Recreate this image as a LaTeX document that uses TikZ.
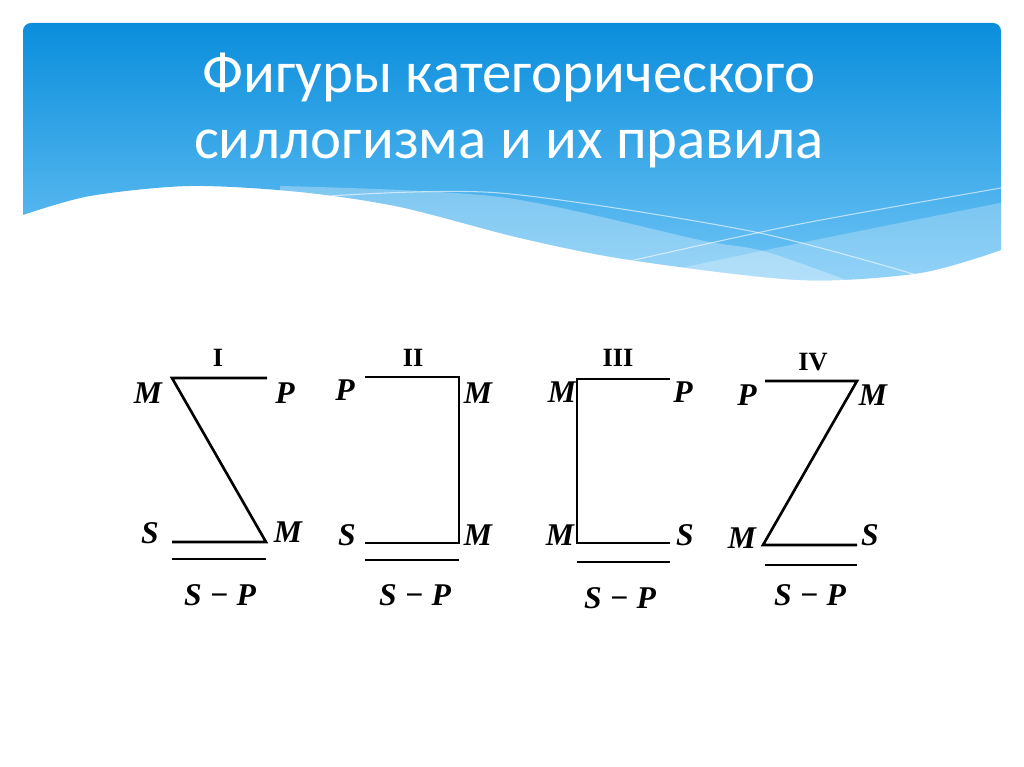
\documentclass[tikz,border=0pt]{standalone}
\usepackage{fontspec}
\setmainfont{Liberation Serif}
\newfontfamily\titlefont{Carlito}
\usetikzlibrary{positioning}
\definecolor{headtop}{RGB}{10,142,220}
\definecolor{headbot}{RGB}{110,196,245}

\tikzset{
  slidetitle/.style={font=\titlefont\fontsize{33.5}{40}\selectfont, text=white, inner sep=0pt},
  term/.style={font=\fontsize{18}{21}\selectfont\bfseries\itshape, inner sep=0pt},
  fignum/.style={font=\fontsize{15}{18}\selectfont\bfseries, inner sep=0pt},
  leg/.style={line width=1.5pt},
  swoosh/.style={white, opacity=0.6, line width=0.6pt},
}

\begin{document}
\begin{tikzpicture}[x=0.02cm,y=-0.02cm]
    \useasboundingbox (0,0) rectangle (1024,767);

    % Header band with wave
    \begin{scope}
        \clip (23,215) [rounded corners=4.5pt] -- (23,23) -- (1001,23) [sharp corners] -- (1001,250)
            -- plot[smooth] coordinates {(1001,250) (920,273) (800,280) (630,260) (520,238) (400,207) (300,192) (190,186) (90,196) (23,215)} -- cycle;
        \shade[top color=headtop, bottom color=headbot] (0,23) rectangle (1024,282);
        \fill[white, opacity=0.3] plot[smooth] coordinates {(280,186) (500,197) (700,240) (770,253) (900,300)} -- (280,300) -- cycle;
        \fill[white, opacity=0.25] plot[smooth] coordinates {(600,285) (800,243) (1010,201)} -- (1010,300) -- (600,300) -- cycle;
        \draw[swoosh] plot[smooth] coordinates {(330,196) (500,193) (750,231) (920,276)};
        \draw[swoosh] plot[smooth] coordinates {(630,261) (800,224) (1001,188)};
    \end{scope}

    % Title
    \node[slidetitle, anchor=base] (title1) at (509,92) {Фигуры категорического};
    \node[slidetitle, anchor=base] (title2) at (509,158) {силлогизма и их правила};

    % Figure I
    \coordinate (I-m1) at (172,378);
    \coordinate (I-p) at (267,378);
    \coordinate (I-m2) at (266,542);
    \coordinate (I-s) at (172,542);
    \coordinate (I-u1) at (172,559);
    \coordinate (I-u2) at (266,559);
    \draw[leg] (I-p) -- (I-m1) -- (I-m2) -- (I-s);
    \draw[leg] (I-u1) -- (I-u2);
    \node[fignum] (I-num) at (218,358) {I};
    \node[term] (I-M1) at (148,393) {M};
    \node[term] (I-P) at (285,393) {P};
    \node[term] (I-S) at (150,533) {S};
    \node[term] (I-M2) at (288,532) {M};
    \node[term] (I-res) at (220,595) {S − P};

    % Figure II
    \coordinate (II-p) at (365,377);
    \coordinate (II-m1) at (459,377);
    \coordinate (II-m2) at (459,543);
    \coordinate (II-s) at (365,543);
    \coordinate (II-u1) at (365,560);
    \coordinate (II-u2) at (459,560);
    \draw[leg] (II-p) -- (II-m1) -- (II-m2) -- (II-s);
    \draw[leg] (II-u1) -- (II-u2);
    \node[fignum] (II-num) at (413,358) {II};
    \node[term] (II-P) at (345,390) {P};
    \node[term] (II-M1) at (478,393) {M};
    \node[term] (II-S) at (347,535) {S};
    \node[term] (II-M2) at (478,535) {M};
    \node[term] (II-res) at (415,595) {S − P};

    % Figure III
    \coordinate (III-p) at (670,379);
    \coordinate (III-m1) at (577,379);
    \coordinate (III-m2) at (577,543);
    \coordinate (III-s) at (670,543);
    \coordinate (III-u1) at (577,562);
    \coordinate (III-u2) at (670,562);
    \draw[leg] (III-p) -- (III-m1) -- (III-m2) -- (III-s);
    \draw[leg] (III-u1) -- (III-u2);
    \node[fignum] (III-num) at (618,358) {III};
    \node[term] (III-M1) at (562,392) {M};
    \node[term] (III-P) at (683,392) {P};
    \node[term] (III-M2) at (560,535) {M};
    \node[term] (III-S) at (685,535) {S};
    \node[term] (III-res) at (620,598) {S − P};

    % Figure IV
    \coordinate (IV-p) at (765,381);
    \coordinate (IV-m1) at (857,381);
    \coordinate (IV-m2) at (763,545);
    \coordinate (IV-s) at (857,545);
    \coordinate (IV-u1) at (765,565);
    \coordinate (IV-u2) at (857,565);
    \draw[leg] (IV-p) -- (IV-m1) -- (IV-m2) -- (IV-s);
    \draw[leg] (IV-u1) -- (IV-u2);
    \node[fignum] (IV-num) at (813,362) {IV};
    \node[term] (IV-P) at (747,395) {P};
    \node[term] (IV-M1) at (873,395) {M};
    \node[term] (IV-M2) at (742,538) {M};
    \node[term] (IV-S) at (870,535) {S};
    \node[term] (IV-res) at (810,595) {S − P};
\end{tikzpicture}
\end{document}
